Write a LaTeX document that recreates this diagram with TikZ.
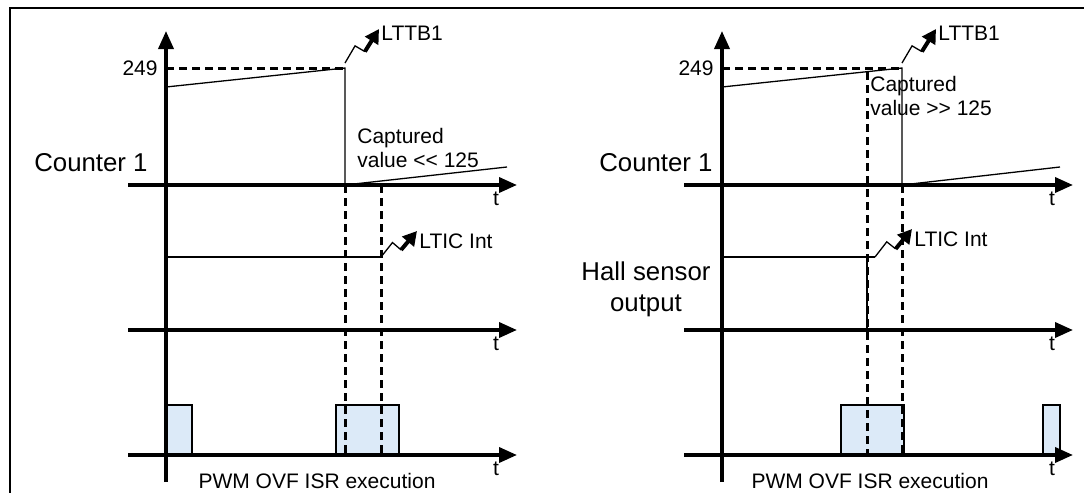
\documentclass[tikz,border=0pt]{standalone}
\usepackage{fontspec}
\setmainfont{Liberation Sans}
\usepackage{xcolor}
\definecolor{ink}{HTML}{000000}
\definecolor{isr}{HTML}{DCEAF8}
\usepackage{tikz}
\usetikzlibrary{arrows.meta, calc}
\tikzset{
  axis/.style={line width=1.8pt, color=ink, -{Triangle[length=9pt, width=7.5pt]}},
  sig/.style={line width=0.65pt, color=ink},
  guide/.style={line width=1.5pt, color=ink, dash pattern=on 4pt off 2.5pt},
  pulse/.style={draw=ink, fill=isr, line width=0.55pt},
  lbl/.style={font=\fontsize{10.5}{11.8}\selectfont, text=ink, inner sep=0pt},
  big/.style={font=\fontsize{12.9}{15.5}\selectfont, text=ink, inner sep=0pt},
  frame/.style={line width=1pt, color=ink},
}
% interrupt flash: thin zigzag, then a heavy arrow
\newcommand{\zap}[2]{%
  \draw[sig] (#1) -- ($(#1)!0.40!(#2)!2.5pt!90:(#2)$) -- ($(#1)!0.46!(#2)!3pt!-90:(#2)$);
  \draw[line width=2pt, color=ink, -{Triangle[length=7pt, width=7.5pt]}]
    ($(#1)!0.46!(#2)!3pt!-90:(#2)$) -- (#2);}

\begin{document}
\begin{tikzpicture}[x=0.5pt, y=-0.5pt]
  \useasboundingbox (0,0) rectangle (1084,493);
  \draw[frame] (10,493) -- (10,8) -- (1084,8);

  % ISR execution slots
  \foreach \a/\b in {166/192, 336/399, 841/904, 1043/1060}
    \draw[pulse] (\a,405) rectangle (\b,455);

  % Both panels share the same three time axes.
  \foreach \p/\ox/\mx in {L/0/317, R/556/314} {
    \begin{scope}[shift={(\ox,0)}]
      \coordinate (vb\p) at (166,482);
      \coordinate (vt\p) at (166,31);
      \foreach \n/\y in {c/185, h/330, w/455} {
        \coordinate (a\p\n) at (128,\y);
        \coordinate (b\p\n) at (517,\y);
        \draw[axis] (a\p\n) -- (b\p\n);
        \node[lbl] (t\p\n) at (496,\y+14) {t};
      }
      \draw[axis] (vb\p) -- (vt\p);
      \node[lbl, anchor=east] (top\p) at (158,68) {249};
      \node[lbl] (isr\p) at (\mx,481) {PWM OVF ISR execution};
    \end{scope}
  }

  % Left: capture long after the reset.
  \coordinate (r0L) at (166,87);
  \coordinate (r1L) at (345,68);
  \coordinate (r2L) at (345,185);
  \coordinate (r3L) at (507,167);
  \draw[sig] (r0L) -- (r1L) -- (r2L) -- (r3L);
  \draw[guide] (vtL |- r1L) -- (r1L);
  \draw[guide] (r2L) -- (r2L |- aLw);
  \coordinate (icL) at (381,257);
  \draw[sig] (vtL |- icL) -- (icL);
  \draw[guide] (icL |- aLc) -- (icL |- aLw);

  \node[big, anchor=east] (cntL) at (148,163) {Counter 1};
  \node[lbl, anchor=west, align=left] (capL) at (357,148)
    {Captured\\value <\kern0pt< 125};
  \coordinate (zsL) at (345,63);
  \coordinate (ztL) at (379,29);
  \zap{zsL}{ztL}
  \node[lbl, anchor=west] (ttL) at (381,33) {LTTB1};
  \coordinate (zcL) at (417,231);
  \zap{icL}{zcL}
  \node[lbl, anchor=west] (liL) at (419,241) {LTIC Int};

  % Right: capture just before the reset.
  \coordinate (r0R) at (722,87);
  \coordinate (r1R) at (902,68);
  \coordinate (r2R) at (902,185);
  \coordinate (r3R) at (1060,167);
  \draw[sig] (r0R) -- (r1R) -- (r2R) -- (r3R);
  \draw[guide] (vtR |- r1R) -- (r1R);
  \draw[guide] (r2R) -- (r2R |- aRw);
  \coordinate (cpR) at (867,72);
  \coordinate (icR) at (875,257);
  \draw[sig] (vtR |- icR) -- (icR);
  \draw[sig] (cpR |- icR) -- (cpR |- aRh);
  \draw[guide] (cpR) -- (cpR |- aRw);

  \node[big, anchor=east] (cntR) at (713,163) {Counter 1};
  \node[big, align=center] (hall) at (646,289) {Hall sensor\\output};
  \node[lbl, anchor=west, align=left] (capR) at (870,96)
    {Captured\\value >\kern0pt> 125};
  \coordinate (zsR) at (902,63);
  \coordinate (ztR) at (936,29);
  \zap{zsR}{ztR}
  \node[lbl, anchor=west] (ttR) at (938,33) {LTTB1};
  \coordinate (zcR) at (912,229);
  \zap{icR}{zcR}
  \node[lbl, anchor=west] (liR) at (914,239) {LTIC Int};
\end{tikzpicture}
\end{document}
